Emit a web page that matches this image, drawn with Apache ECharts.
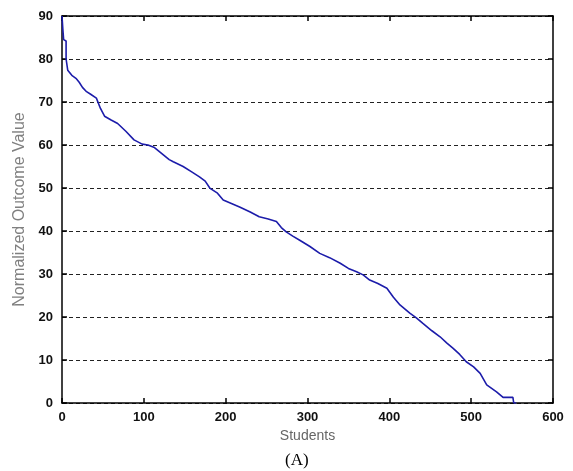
<!DOCTYPE html>
<html>
<head>
<meta charset="utf-8">
<script src="https://cdn.jsdelivr.net/npm/echarts@6/dist/echarts.min.js"></script>
<style>
  html, body { margin: 0; padding: 0; background: #fff; }
  #chart { width: 573px; height: 471px; }
</style>
</head>
<body>
<div id="chart"></div>
<script>
// students index (x) and normalized outcome value (y)
var students = [0, 1, 2, 5, 5, 7, 12, 17, 21, 25, 30, 35, 42, 47, 52, 60, 68, 78, 88, 98, 105, 113, 122, 131, 136, 148, 158, 168, 175, 181, 190, 197, 207, 217, 230, 241, 252, 262, 268, 274, 282, 291, 303, 315, 327, 340, 350, 360, 368, 376, 386, 397, 405, 413, 425, 433, 441, 452, 462, 470, 478, 486, 494, 503, 511, 519, 525, 531, 539, 545, 551, 552, 555];
var outcome = [90, 87, 84.5, 84.2, 80, 77.4, 76.2, 75.5, 74.6, 73.4, 72.4, 71.8, 70.9, 68.5, 66.7, 65.8, 65, 63.2, 61.2, 60.2, 60, 59.4, 58, 56.6, 56.1, 55, 53.8, 52.6, 51.6, 49.9, 48.8, 47.2, 46.4, 45.6, 44.4, 43.3, 42.8, 42.2, 40.8, 39.8, 38.8, 37.8, 36.4, 34.8, 33.8, 32.5, 31.3, 30.5, 29.8, 28.6, 27.8, 26.7, 24.6, 22.8, 20.9, 19.8, 18.5, 16.8, 15.4, 14, 12.7, 11.3, 9.6, 8.4, 6.9, 4.2, 3.4, 2.6, 1.3, 1.3, 1.3, 0, 0];
var xTicks = [0, 100, 200, 300, 400, 500, 600];
var yTicks = [0, 10, 20, 30, 40, 50, 60, 70, 80, 90];

var points = students.map(function (s, i) { return [s, outcome[i]]; });

var chart = echarts.init(document.getElementById('chart'));
var tickFont = { fontFamily: 'Liberation Sans', fontSize: 13, fontWeight: 'bold', color: '#111' };
var axisLineStyle = { onZero: false, lineStyle: { color: '#000', width: 1.5 } };
var tickStyle = { inside: true, length: 5, lineStyle: { color: '#000', width: 1.5 } };

chart.setOption({
  animation: false,
  backgroundColor: '#fff',
  title: {
    text: '(A)',
    left: 280,
    top: 447,
    textStyle: { fontFamily: 'Liberation Serif', fontSize: 17, fontWeight: 'normal', color: '#000' }
  },
  grid: { left: 62, right: 20, top: 16, bottom: 68 },
  xAxis: [
    {
      type: 'value',
      min: xTicks[0],
      max: xTicks[xTicks.length - 1],
      interval: 100,
      name: 'Students',
      nameLocation: 'middle',
      nameGap: 25,
      nameTextStyle: { fontFamily: 'Liberation Sans', fontSize: 14, color: '#666' },
      axisLine: axisLineStyle,
      axisTick: tickStyle,
      axisLabel: Object.assign({ margin: 8 }, tickFont),
      splitLine: { show: false }
    },
    {
      type: 'value',
      position: 'top',
      min: xTicks[0],
      max: xTicks[xTicks.length - 1],
      interval: 100,
      axisLine: axisLineStyle,
      axisTick: tickStyle,
      axisLabel: { show: false },
      splitLine: { show: false }
    }
  ],
  yAxis: [
    {
      type: 'value',
      min: yTicks[0],
      max: yTicks[yTicks.length - 1],
      interval: 10,
      name: 'Normalized Outcome Value',
      nameLocation: 'middle',
      nameGap: 33,
      nameTextStyle: { fontFamily: 'Liberation Sans', fontSize: 16, color: '#808080' },
      axisLine: axisLineStyle,
      axisTick: tickStyle,
      axisLabel: Object.assign({ margin: 9 }, tickFont),
      splitLine: { show: true, lineStyle: { color: '#222', width: 1, type: [4, 3] } }
    },
    {
      type: 'value',
      position: 'right',
      min: yTicks[0],
      max: yTicks[yTicks.length - 1],
      interval: 10,
      axisLine: axisLineStyle,
      axisTick: tickStyle,
      axisLabel: { show: false },
      splitLine: { show: false }
    }
  ],
  series: [
    {
      type: 'line',
      data: points,
      showSymbol: false,
      lineStyle: { color: '#1c1caa', width: 1.6 },
      z: 5
    }
  ]
});
</script>
</body>
</html>
